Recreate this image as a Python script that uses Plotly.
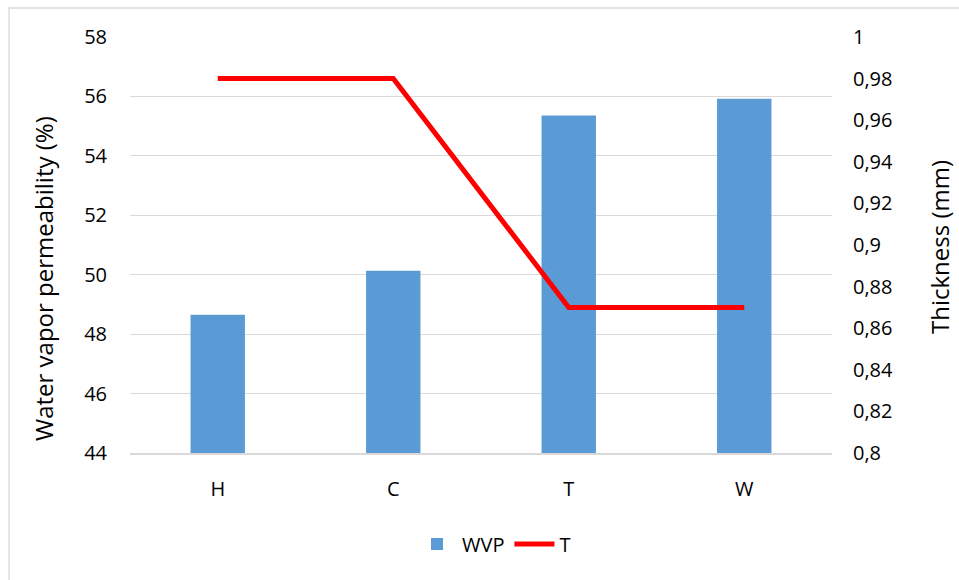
import plotly.graph_objects as go

categories = ["H", "C", "T", "W"]
wvp_values = [48.65, 50.13, 55.36, 55.92]
thickness_values = [0.98, 0.98, 0.87, 0.87]
left_ticks = [44, 46, 48, 50, 52, 54, 56, 58]
right_ticks = [0.8, 0.82, 0.84, 0.86, 0.88, 0.9, 0.92, 0.94, 0.96, 0.98, 1.0]
right_tick_labels = ["0,8", "0,82", "0,84", "0,86", "0,88", "0,9", "0,92", "0,94", "0,96", "0,98", "1"]

FONT = "Open Sans"
L, R, T, B = 130, 127, 37, 127
W, H = 959, 580
pw, ph = W - L - R, H - T - B


def px_x(x):
    return (x - L) / pw


def px_y(y):
    return (T + ph - y) / ph


fig = go.Figure()
fig.add_trace(go.Bar(
    x=categories, y=wvp_values, name="WVP",
    marker=dict(color="#5B9BD5", line=dict(width=0)),
    width=0.31, yaxis="y",
))
fig.add_trace(go.Scatter(
    x=categories, y=thickness_values, name="T", mode="lines",
    line=dict(color="#FF0000", width=5),
    yaxis="y2",
))

fig.update_layout(
    width=W, height=H,
    margin=dict(l=L, r=R, t=T, b=B),
    paper_bgcolor="white", plot_bgcolor="white",
    font=dict(family=FONT, size=20, color="#000000"),
    xaxis=dict(
        showgrid=False, showline=True, linecolor="#D9D9D9", linewidth=1.5,
        ticks="", ticklabelstandoff=17, tickfont=dict(size=20),
    ),
    yaxis=dict(
        range=[44, 58], tickvals=left_ticks, showgrid=True, gridcolor="#D9D9D9",
        gridwidth=1.3, zeroline=False, showline=False, ticks="",
        ticklabelstandoff=22, tickfont=dict(size=20),
    ),
    yaxis2=dict(
        range=[0.8, 1.0], overlaying="y", side="right", showgrid=False,
        zeroline=False, showline=False, ticks="",
        tickvals=right_ticks, ticktext=right_tick_labels,
        ticklabelstandoff=20, tickfont=dict(size=20),
    ),
    legend=dict(
        orientation="h", x=px_x(494), xanchor="center",
        y=px_y(544), yanchor="middle",
        font=dict(size=20), itemwidth=40, traceorder="normal",
    ),
    showlegend=True,
)

fig.add_annotation(
    text="Water vapor permeability (%)", textangle=-90,
    xref="paper", yref="paper", x=px_x(43), y=px_y(279),
    xanchor="center", yanchor="middle", showarrow=False,
    font=dict(size=24),
)
fig.add_annotation(
    text="Thickness (mm)", textangle=-90,
    xref="paper", yref="paper", x=px_x(939), y=px_y(247),
    xanchor="center", yanchor="middle", showarrow=False,
    font=dict(size=24),
)

fig.add_shape(
    type="rect", xref="paper", yref="paper",
    x0=px_x(9), x1=px_x(975),
    y0=px_y(600), y1=px_y(8),
    line=dict(color="#D9D9D9", width=1.3), fillcolor="rgba(0,0,0,0)",
    layer="below",
)

fig.write_html(
    "out.html",
    config={"displayModeBar": False},
    post_script="document.body.style.margin='0';document.body.style.overflow='hidden';",
)
